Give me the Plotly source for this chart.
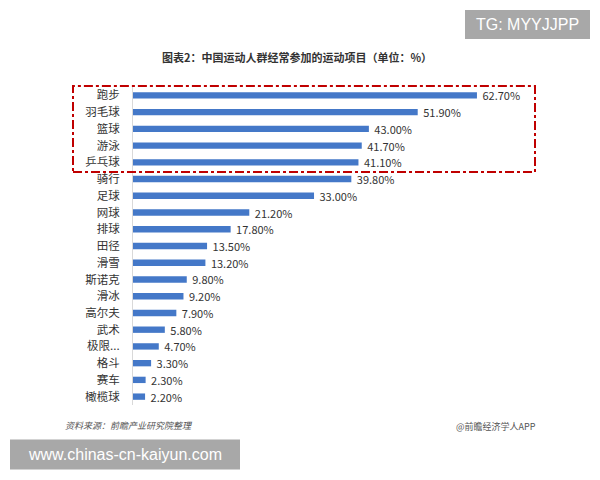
import plotly.graph_objects as go

categories = ["跑步", "羽毛球", "篮球", "游泳", "乒乓球", "骑行", "足球", "网球", "排球", "田径",
              "滑雪", "斯诺克", "滑冰", "高尔夫", "武术", "极限...", "格斗", "赛车", "橄榄球"]
values = [62.7, 51.9, 43.0, 41.7, 41.1, 39.8, 33.0, 21.2, 17.8, 13.5,
          13.2, 9.8, 9.2, 7.9, 5.8, 4.7, 3.3, 2.3, 2.2]

W, H = 600, 480
L, R, T, B = 133, 517, 87, 405.4

def px(x):
    return (x - L) / (R - L)

def py(y):
    return (B - y) / (B - T)

FONT = "Noto Sans CJK SC"

fig = go.Figure(go.Bar(
    x=values, y=categories, orientation="h",
    marker=dict(color="#4478c8", line=dict(width=0)),
    width=0.38,
    texttemplate=" %{x:.2f}%", textposition="outside", constraintext="none",
    textfont=dict(size=11, color="#333333", family=FONT),
    cliponaxis=False,
))

shapes = [
    dict(type="rect", xref="paper", yref="paper", x0=px(73), x1=px(535), y0=py(172), y1=py(86),
         line=dict(color="#c00000", width=2, dash="dashdot")),
    dict(type="rect", xref="paper", yref="paper", x0=px(465), x1=px(590), y0=py(39), y1=py(10),
         fillcolor="#a8a8a8", line=dict(width=0)),
    dict(type="rect", xref="paper", yref="paper", x0=px(10), x1=px(240), y0=py(470), y1=py(440),
         fillcolor="#a8a8a8", line=dict(width=0)),
]

annotations = [
    dict(text="<b>图表2：中国运动人群经常参加的运动项目（单位：%）</b>", xref="paper", yref="paper",
         x=px(297), y=py(57), xanchor="center", yanchor="middle", showarrow=False,
         font=dict(size=11, color="#333333", family=FONT)),
    dict(text="TG: MYYJJPP", xref="paper", yref="paper", x=px(527.5), y=py(24.5),
         xanchor="center", yanchor="middle", showarrow=False,
         font=dict(size=16, color="white", family="Liberation Sans")),
    dict(text="www.chinas-cn-kaiyun.com", xref="paper", yref="paper", x=px(125), y=py(455),
         xanchor="center", yanchor="middle", showarrow=False,
         font=dict(size=16, color="white", family="Liberation Sans")),
    dict(text="<i>资料来源：前瞻产业研究院整理</i>", xref="paper", yref="paper", x=px(63), y=py(426),
         xanchor="left", yanchor="middle", showarrow=False, font=dict(size=9, color="#555555", family=FONT)),
    dict(text="@前瞻经济学人APP", xref="paper", yref="paper", x=px(538), y=py(427),
         xanchor="right", yanchor="middle", showarrow=False, font=dict(size=9, color="#555555", family=FONT)),
]

fig.update_layout(
    width=W, height=H,
    margin=dict(l=L, r=W - R, t=T, b=H - B, pad=0),
    paper_bgcolor="white", plot_bgcolor="white",
    showlegend=False,
    xaxis=dict(range=[0, 70], visible=False, fixedrange=True),
    yaxis=dict(autorange="reversed", showgrid=False, showline=True, linecolor="#d9d9d9", linewidth=1,
               ticks="", ticklabelstandoff=10,
               tickfont=dict(size=11.5, color="#333333", family=FONT)),
    shapes=shapes, annotations=annotations,
    bargap=0.62,
)

fig.write_html("out.html")
